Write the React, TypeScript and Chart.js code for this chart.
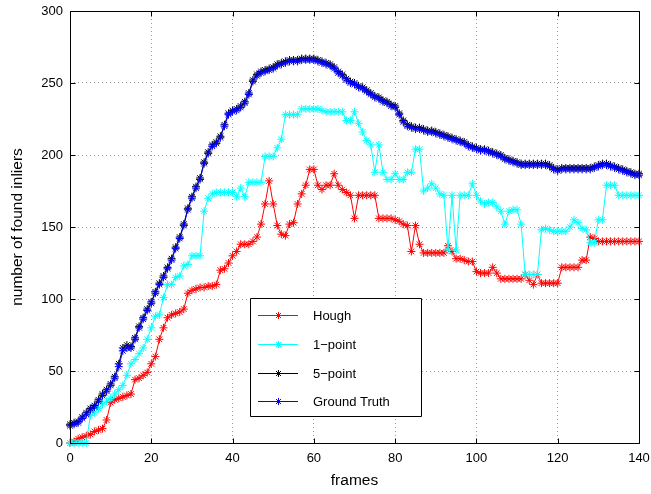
import React, { useEffect, useRef } from "react";
import { Chart, registerables } from "chart.js";

Chart.register(...registerables);

// frame indices 0..140
const frames: number[] = Array.from({ length: 141 }, (_, i) => i);

const seriesNames = ["Hough", "1\u2212point", "5\u2212point", "Ground Truth"];
const seriesColors = ["#ff0000", "#00ffff", "#000000", "#0000ff"];

const xTicks = [0, 20, 40, 60, 80, 100, 120, 140];
const yTicks = [0, 50, 100, 150, 200, 250, 300];

const hough = [
  0, 1, 3, 4, 5, 6, 8, 9, 10, 16,
  28, 30, 31, 32, 33, 34, 44, 45, 47, 49,
  55, 60, 72, 80, 87, 89, 90, 91, 93, 104,
  106, 107, 108, 108, 109, 109, 110, 120, 121, 125,
  130, 133, 138, 138, 138, 140, 143, 152, 166, 182,
  166, 151, 145, 144, 152, 153, 166, 173, 179, 190,
  190, 179, 176, 179, 179, 187, 179, 176, 174, 172,
  156, 172, 172, 172, 172, 172, 156, 156, 156, 156,
  155, 154, 152, 151, 133, 151, 138, 132, 132, 132,
  132, 132, 132, 137, 133, 128, 128, 127, 126, 126,
  119, 118, 118, 118, 122, 118, 114, 114, 114, 114,
  114, 114, 117, 113, 110, 117, 111, 111, 111, 111,
  111, 122, 122, 122, 122, 122, 127, 127, 143, 142,
  140, 140, 140, 140, 140, 140, 140, 140, 140, 140,
  140,
];

const onePoint = [
  0, 0, 0, 0, 0, 19, 21, 24, 27, 29,
  31, 34, 37, 40, 47, 55, 58, 62, 66, 72,
  80, 88, 89, 101, 110, 110, 115, 116, 123, 124,
  130, 130, 130, 161, 170, 173, 174, 174, 174, 174,
  174, 171, 177, 171, 181, 181, 181, 181, 199, 199,
  199, 205, 211, 228, 228, 228, 228, 232, 232, 232,
  232, 232, 231, 230, 230, 230, 230, 230, 224, 224,
  230, 222, 216, 210, 207, 188, 207, 188, 183, 183,
  187, 183, 183, 188, 188, 204, 204, 175, 177, 180,
  177, 173, 172, 134, 172, 134, 172, 172, 172, 180,
  172, 168, 166, 167, 167, 164, 161, 152, 161, 162,
  162, 152, 117, 117, 117, 117, 148, 149, 148, 147,
  147, 147, 147, 150, 155, 153, 149, 148, 139, 139,
  155, 155, 179, 179, 179, 172, 172, 172, 172, 172,
  172,
];

const fivePoint = [
  13, 14, 15, 18, 21, 24, 26, 30, 34, 37,
  41, 46, 55, 66, 68, 67, 73, 81, 87, 93,
  98, 105, 111, 116, 122, 128, 136, 143, 152, 163,
  171, 178, 184, 195, 202, 207, 209, 213, 221, 229,
  231, 232, 234, 237, 243, 252, 256, 258, 259, 260,
  261, 263, 264, 265, 266, 266, 266, 267, 267, 267,
  267, 266, 265, 264, 263, 261, 258, 256, 253, 251,
  250, 248, 247, 245, 243, 241, 240, 238, 237, 235,
  234, 229, 224, 221, 220, 219, 219, 218, 217, 217,
  216, 215, 214, 213, 212, 211, 210, 209, 207, 206,
  205, 204, 204, 203, 202, 201, 200, 198, 197, 196,
  195, 194, 194, 194, 194, 194, 194, 194, 193, 191,
  190, 191, 191, 191, 191, 191, 191, 191, 191, 192,
  193, 194, 194, 193, 192, 191, 190, 189, 188, 187,
  187,
];

const groundTruth = [
  12, 13, 14, 17, 20, 23, 25, 29, 33, 36,
  40, 45, 53, 64, 66, 66, 72, 80, 86, 92,
  97, 104, 110, 115, 121, 127, 135, 142, 151, 162,
  170, 177, 183, 194, 201, 206, 208, 212, 220, 228,
  230, 231, 233, 236, 242, 251, 255, 257, 258, 259,
  260, 262, 263, 264, 265, 265, 265, 266, 266, 266,
  266, 265, 264, 263, 262, 260, 257, 255, 252, 250,
  249, 247, 246, 244, 242, 240, 239, 237, 236, 234,
  233, 228, 223, 220, 219, 218, 218, 217, 216, 216,
  215, 214, 213, 212, 211, 210, 209, 208, 206, 205,
  204, 203, 203, 202, 201, 200, 199, 197, 196, 195,
  194, 193, 193, 193, 193, 193, 193, 193, 192, 190,
  189, 190, 190, 190, 190, 190, 190, 190, 190, 191,
  192, 193, 193, 192, 191, 190, 189, 188, 187, 186,
  186,
];

const allSeries = [hough, onePoint, fivePoint, groundTruth];

const FONT = "'Liberation Sans', Arial, Helvetica, sans-serif";

function drawStar(ctx: CanvasRenderingContext2D, x: number, y: number, r: number) {
  const d = r * Math.SQRT1_2;
  ctx.moveTo(x - r, y);
  ctx.lineTo(x + r, y);
  ctx.moveTo(x, y - r);
  ctx.lineTo(x, y + r);
  ctx.moveTo(x - d, y - d);
  ctx.lineTo(x + d, y + d);
  ctx.moveTo(x - d, y + d);
  ctx.lineTo(x + d, y - d);
}

const framePlugin = {
  id: "matlabFrame",
  afterDatasetsDraw(chart: any) {
    const { ctx, chartArea: a, scales } = chart;
    ctx.save();
    ctx.strokeStyle = "#000";
    ctx.lineWidth = 1;
    const L = Math.round(a.left) + 0.5;
    const R = Math.round(a.right) + 0.5;
    const T = Math.round(a.top) + 0.5;
    const B = Math.round(a.bottom) + 0.5;
    ctx.beginPath();
    ctx.rect(L, T, R - L, B - T);
    const tl = 5;
    for (const v of xTicks) {
      const x = Math.round(scales.x.getPixelForValue(v)) + 0.5;
      ctx.moveTo(x, B);
      ctx.lineTo(x, B - tl);
      ctx.moveTo(x, T);
      ctx.lineTo(x, T + tl);
    }
    for (const v of yTicks) {
      const y = Math.round(scales.y.getPixelForValue(v)) + 0.5;
      ctx.moveTo(L, y);
      ctx.lineTo(L + tl, y);
      ctx.moveTo(R, y);
      ctx.lineTo(R - tl, y);
    }
    ctx.stroke();

    // legend box
    const bx = 250.5, by = 298.5, bw = 171, bh = 118;
    ctx.fillStyle = "#fff";
    ctx.fillRect(bx, by, bw, bh);
    ctx.strokeStyle = "#000";
    ctx.beginPath();
    ctx.rect(bx, by, bw, bh);
    ctx.stroke();
    const rowYs = [315, 344, 373, 401];
    ctx.font = `13px ${FONT}`;
    ctx.textBaseline = "middle";
    ctx.textAlign = "left";
    seriesNames.forEach((name, i) => {
      const y = rowYs[i] + 0.5;
      ctx.strokeStyle = seriesColors[i];
      ctx.lineWidth = 1;
      ctx.beginPath();
      ctx.moveTo(258, y);
      ctx.lineTo(298, y);
      drawStar(ctx, 278.5, y, 3.5);
      ctx.stroke();
      ctx.fillStyle = "#000";
      ctx.fillText(name, 313, rowYs[i] + 1);
    });
    ctx.restore();
  },
};

export default function App() {
  const canvasRef = useRef<HTMLCanvasElement | null>(null);

  useEffect(() => {
    const canvas = canvasRef.current;
    if (!canvas) return;
    const order = [4, 3, 2, 1];
    const chart = new Chart(canvas, {
      type: "line",
      data: {
        datasets: allSeries.map((vals, i) => ({
          label: seriesNames[i],
          data: frames.map((f, j) => ({ x: f, y: vals[j] })),
          borderColor: seriesColors[i],
          backgroundColor: seriesColors[i],
          pointBorderColor: seriesColors[i],
          borderWidth: 1,
          pointStyle: "star",
          pointRadius: 4,
          pointBorderWidth: 1,
          tension: 0,
          fill: false,
          clip: false as any,
          order: order[i],
        })),
      },
      options: {
        animation: false,
        responsive: false,
        events: [],
        devicePixelRatio: 1,
        layout: { padding: { top: 11, right: 12, left: 0, bottom: 0 } },
        plugins: {
          legend: { display: false },
          tooltip: { enabled: false },
        },
        scales: {
          x: {
            type: "linear",
            min: 0,
            max: 140,
            afterBuildTicks: (s: any) => {
              s.ticks = xTicks.map((v) => ({ value: v }));
            },
            afterFit: (s: any) => {
              s.height = 51;
            },
            ticks: {
              color: "#000",
              font: { family: FONT, size: 13 },
              padding: 0,
              maxRotation: 0,
              autoSkip: false,
            },
            grid: {
              color: "#9a9a9a",
              drawTicks: true,
              tickLength: 8,
              tickColor: "rgba(0,0,0,0)",
              lineWidth: 1,
            },
            border: { display: false, dash: [1, 3] },
            title: {
              display: true,
              text: "frames",
              color: "#000",
              font: { family: FONT, size: 15.5 },
              padding: { top: 0, bottom: 4 },
            },
          },
          y: {
            type: "linear",
            min: 0,
            max: 300,
            afterBuildTicks: (s: any) => {
              s.ticks = yTicks.map((v) => ({ value: v }));
            },
            afterFit: (s: any) => {
              s.width = 70;
            },
            ticks: {
              color: "#000",
              font: { family: FONT, size: 13 },
              padding: 0,
              autoSkip: false,
            },
            grid: {
              color: "#9a9a9a",
              drawTicks: true,
              tickLength: 7,
              tickColor: "rgba(0,0,0,0)",
              lineWidth: 1,
            },
            border: { display: false, dash: [1, 3] },
            title: {
              display: true,
              text: "number of found inliers",
              color: "#000",
              font: { family: FONT, size: 15.5 },
              padding: { top: 8, bottom: 0 },
            },
          },
        },
      },
      plugins: [framePlugin],
    } as any);
    return () => chart.destroy();
  }, []);

  return (
    <div style={{ position: "absolute", left: 0, top: 0, width: 651, height: 494, background: "#fff" }}>
      <canvas ref={canvasRef} width={651} height={494} style={{ display: "block" }} />
    </div>
  );
}
